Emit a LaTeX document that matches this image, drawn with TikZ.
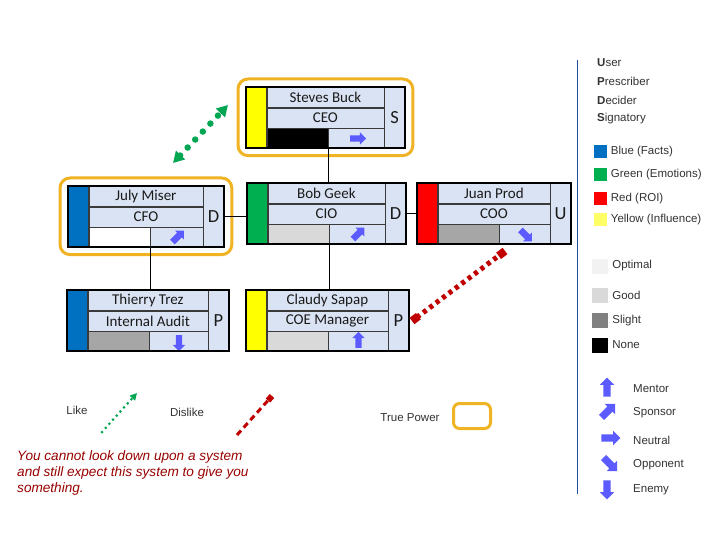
\documentclass[tikz,border=0pt]{standalone}
\usepackage{fontspec}
\setmainfont{Carlito}
\newfontfamily\legfont{Liberation Sans}
\usetikzlibrary{positioning,arrows.meta,shapes.arrows,fit}
\definecolor{cardFill}{HTML}{DAE3F3}
\definecolor{cardLine}{HTML}{3A3A3A}
\definecolor{cardText}{HTML}{1A1A1A}
\definecolor{barBlue}{HTML}{0070C0}
\definecolor{barGreen}{HTML}{00B050}
\definecolor{barRed}{HTML}{FF0000}
\definecolor{barYellow}{HTML}{FFFF00}
\definecolor{softYellow}{HTML}{FFFF66}
\definecolor{statOptimal}{HTML}{F2F2F2}
\definecolor{statGood}{HTML}{D9D9D9}
\definecolor{statSlight}{HTML}{A6A6A6}
\definecolor{statSlightLeg}{HTML}{808080}
\definecolor{powerGold}{HTML}{F0B323}
\definecolor{likeGreen}{HTML}{00A651}
\definecolor{dislikeRed}{HTML}{C00000}
\definecolor{moodBlue}{HTML}{5B5BFF}
\definecolor{ruleBlue}{HTML}{1F4E9A}
\definecolor{quoteRed}{HTML}{990000}
\definecolor{legendText}{HTML}{333333}

% one person card: id, top-left, width, bar colour, name, role, status, arrow angle, letter
\newcommand{\orgcard}[9]{%
  \node[cbar,fill=#4] (#1-bar) at #2 {};
  \node[cell,minimum width=#3-40,anchor=north west] (#1-name) at (#1-bar.north east) {#5};
  \node[cell,minimum width=#3-40,anchor=north west] (#1-role) at (#1-name.south west) {#6};
  \node[cell,fill=#7,minimum width=61,anchor=north west] (#1-stat) at (#1-role.south west) {};
  \node[cell,minimum width=#3-101,anchor=north west] (#1-att) at (#1-stat.north east) {};
  \node[mood,rotate=#8] (#1-mood) at (#1-att) {};
  \node[lettr,anchor=north west] (#1-let) at (#1-name.north east) {#9};
  \draw[cardedge] (#1-bar.north west) rectangle (#1-let.south east);
}

\begin{document}
\begin{tikzpicture}[x=1pt,y=-1pt,
  every node/.style={inner sep=0pt,text=cardText},
  cbar/.style={draw=cardLine,line width=0.6pt,anchor=north west,minimum width=20,minimum height=60},
  cell/.style={draw=cardLine,line width=0.6pt,fill=cardFill,minimum height=20,font=\fontsize{15}{17}\selectfont},
  lettr/.style={draw=cardLine,line width=0.6pt,fill=cardFill,minimum width=20,minimum height=60,font=\fontsize{18.5}{20}\selectfont},
  cardedge/.style={draw=black,line width=2pt},
  mood/.style={single arrow,fill=moodBlue,minimum height=16,inner xsep=0pt,inner ysep=3pt,single arrow head extend=3pt,single arrow head indent=0pt},
  bigmood/.style={mood,minimum height=19,inner ysep=3.5pt,single arrow head extend=3.5pt},
  power/.style={draw=powerGold,line width=3pt,rounded corners=10pt,inner sep=8pt},
  link/.style={draw=black,line width=0.6pt},
  likeLink/.style={{Triangle[length=11pt,width=12pt]}-{Triangle[length=11pt,width=12pt]},color=likeGreen,line width=6.5pt,line cap=round,dash pattern=on 0pt off 11pt},
  dislikeLink/.style={{Square[length=8pt,width=8pt]}-{Square[length=8pt,width=8pt]},color=dislikeRed,line width=5pt,dash pattern=on 4pt off 4pt},
  legtext/.style={font=\legfont\fontsize{11.5}{13}\selectfont,text=legendText,inner sep=1pt},
  swatch/.style={minimum width=13,minimum height=13},
  graybox/.style={minimum width=16,minimum height=15},
]
\useasboundingbox[fill=white] (0,0) rectangle (720,540);

% cards
\orgcard{ceo}{(246,87)}{157}{barYellow}{Steves Buck}{CEO}{black}{0}{S}
\orgcard{cfo}{(68,186)}{154}{barBlue}{July Miser}{CFO}{white}{45}{D}
\orgcard{cio}{(247,183)}{157}{barGreen}{Bob Geek}{CIO}{statGood}{45}{D}
\orgcard{coo}{(417,183)}{152}{barRed}{Juan Prod}{COO}{statSlight}{-45}{U}
\orgcard{audit}{(67,290)}{160}{barBlue}{Thierry Trez}{Internal Audit}{statSlight}{-90}{P}
\orgcard{coe}{(246,290)}{161}{barYellow}{Claudy Sapap}{COE Manager}{statGood}{90}{P}

\node[power,fit=(ceo-bar)(ceo-let)] (ceo-power) {};
\node[power,fit=(cfo-bar)(cfo-let)] (cfo-power) {};

% reporting lines
\draw[link] (ceo-stat.south east) -- (ceo-stat.south east |- cio-name.north);
\draw[link] (cfo-let.east) -- (cfo-let.east -| cio-bar.west);
\draw[link] (cio-let.east) -- (cio-let.east -| coo-bar.west);
\draw[link] (cfo-stat.south east) -- (cfo-stat.south east |- audit-name.north);
\draw[link] (cio-stat.south east) -- (cio-stat.south east |- coe-name.north);

% like / dislike
\coordinate (like-a) at (173,163);
\coordinate (like-b) at (228,105);
\draw[likeLink] (like-a) -- (like-b);
\coordinate (dis-a) at (412,321);
\coordinate (dis-b) at (505,251);
\draw[dislikeLink] (dis-a) -- (dis-b);

% bottom legend
\node[legtext] (like-lbl) at (77,410) {Like};
\coordinate (lk-a) at (102,432);
\coordinate (lk-b) at (137,393);
\draw[-{Triangle[length=7pt,width=7pt]},color=likeGreen,line width=3pt,line cap=round,dash pattern=on 0pt off 5.5pt] (lk-a) -- (lk-b);
\node[legtext] (dislike-lbl) at (187,412) {Dislike};
\coordinate (dl-a) at (237,435);
\coordinate (dl-b) at (272,396);
\draw[-{Square[length=6pt,width=6pt]},color=dislikeRed,line width=3pt,dash pattern=on 6pt off 4pt] (dl-a) -- (dl-b);
\node[legtext] (power-lbl) at (410,418) {True Power};
\node[draw=powerGold,line width=3pt,rounded corners=6pt,minimum width=37,minimum height=25] (power-key) at (472,416) {};

\node[anchor=north west,align=left,text=quoteRed,font=\legfont\itshape\fontsize{13.6}{16}\selectfont] (quote) at (17,450)
  {You cannot look down upon a system\\and still expect this system to give you\\something.};

% right legend
\draw[draw=ruleBlue,line width=1pt] (577,60) coordinate (rule-top) -- (577,494) coordinate (rule-bot);
\node[legtext,anchor=west] (role-u) at (596,63) {\textbf{U}ser};
\node[legtext,anchor=west] (role-p) at (596,81) {\textbf{P}rescriber};
\node[legtext,anchor=west] (role-d) at (596,100) {\textbf{D}ecider};
\node[legtext,anchor=west] (role-s) at (596,119) {\textbf{S}ignatory};

\node[swatch,fill=barBlue] (sw-blue) at (600,152) {};
\node[swatch,fill=barGreen] (sw-green) at (600,175) {};
\node[swatch,fill=barRed] (sw-red) at (600,198.5) {};
\node[swatch,fill=softYellow] (sw-yellow) at (600,220) {};
\node[legtext,right=3pt of sw-blue] {Blue (Facts)};
\node[legtext,right=3pt of sw-green] {Green (Emotions)};
\node[legtext,right=3pt of sw-red] {Red (ROI)};
\node[legtext,right=3pt of sw-yellow] {Yellow (Influence)};

\node[graybox,fill=statOptimal] (st-opt) at (600,266) {};
\node[graybox,fill=statGood] (st-good) at (600,295) {};
\node[graybox,fill=statSlightLeg] (st-slight) at (600,320.5) {};
\node[graybox,fill=black] (st-none) at (600,345) {};
\node[legtext,right=3pt of st-opt] {Optimal};
\node[legtext,right=3pt of st-good] {Good};
\node[legtext,right=3pt of st-slight] {Slight};
\node[legtext,right=3pt of st-none] {None};

\node[bigmood,rotate=90] (mood-mentor) at (607,389) {};
\node[bigmood,rotate=45] (mood-sponsor) at (607,412) {};
\node[bigmood] (mood-neutral) at (609,438) {};
\node[bigmood,rotate=-45] (mood-opp) at (609,463) {};
\node[bigmood,rotate=-90] (mood-enemy) at (607,488) {};
\node[legtext,anchor=west] at (632,389) {Mentor};
\node[legtext,anchor=west] at (632,413) {Sponsor};
\node[legtext,anchor=west] at (632,440) {Neutral};
\node[legtext,anchor=west] at (632,465) {Opponent};
\node[legtext,anchor=west] at (632,490) {Enemy};
\end{tikzpicture}
\end{document}
